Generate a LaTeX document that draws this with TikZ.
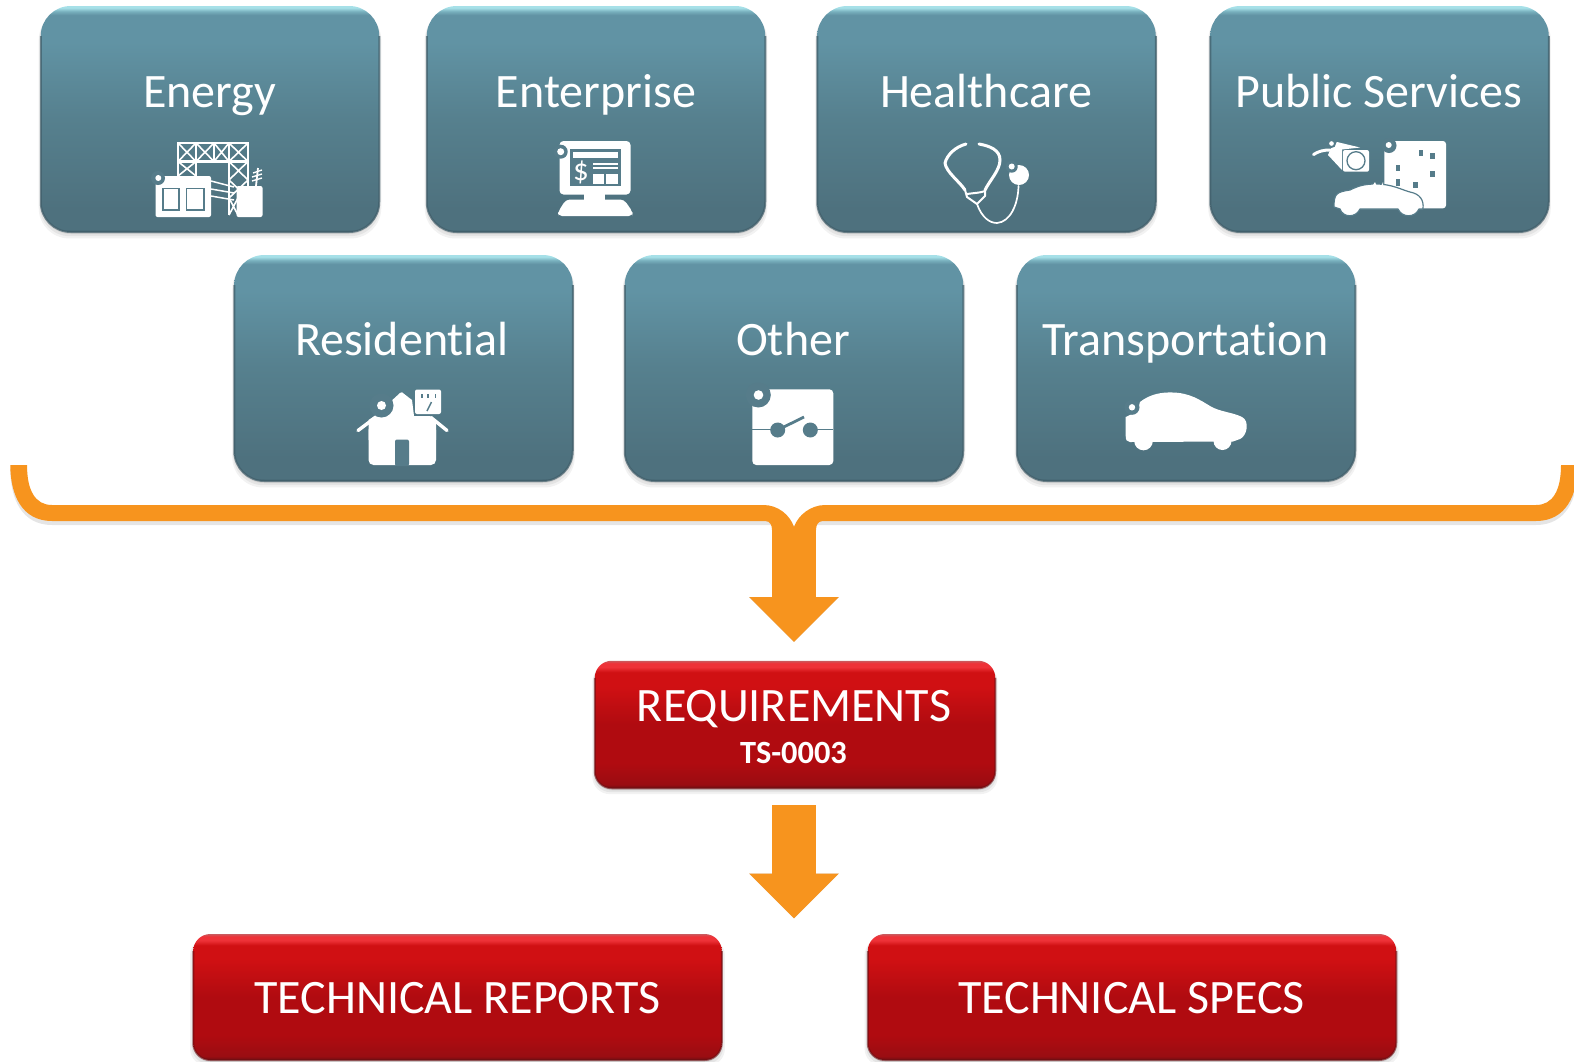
\documentclass[tikz,border=0pt]{standalone}
\usepackage{fontspec}
\setmainfont[Ligatures=NoCommon]{Carlito}
\usetikzlibrary{shadows,arrows.meta}
\definecolor{tealicon}{HTML}{567C8A}
\definecolor{orangeb}{HTML}{F7941E}
\definecolor{t0}{HTML}{405D69}\definecolor{t1}{HTML}{4E717E}\definecolor{t2}{HTML}{56808E}
\definecolor{t3}{HTML}{6193A4}\definecolor{t4}{HTML}{78B0BD}\definecolor{t5}{HTML}{A6E0E8}
\definecolor{r0}{HTML}{6E0E12}\definecolor{r1}{HTML}{9A0D12}\definecolor{r2}{HTML}{B00B10}
\definecolor{r3}{HTML}{D01013}\definecolor{r4}{HTML}{EE3238}\definecolor{r5}{HTML}{C95A5E}
\pgfdeclareverticalshading{tealgrad}{100bp}{color(0bp)=(t0); color(25bp)=(t0); color(25.6bp)=(t1); color(30bp)=(t1); color(50bp)=(t2);
 color(67bp)=(t3); color(73bp)=(t3); color(73.8bp)=(t4); color(74.6bp)=(t5); color(100bp)=(t5)}
\pgfdeclareverticalshading{redgrad}{100bp}{color(0bp)=(r0); color(25bp)=(r0); color(26.5bp)=(r1); color(35bp)=(r2); color(50bp)=(r2);
 color(65bp)=(r3); color(70.5bp)=(r3); color(72.5bp)=(r4); color(74bp)=(r4); color(75bp)=(r5); color(100bp)=(r5)}
\tikzset{
 softshadow/.style={
  general shadow={fill=black,opacity=.05,shadow xshift=0pt,shadow yshift=-5pt,shadow scale=1.012},
  general shadow={fill=black,opacity=.06,shadow xshift=0pt,shadow yshift=-3.5pt,shadow scale=1.006},
  general shadow={fill=black,opacity=.08,shadow xshift=0pt,shadow yshift=-2pt}},
 tealbox/.style={softshadow,shading=tealgrad,rounded corners=30pt,minimum width=338.5pt,minimum height=226pt,inner sep=0pt,outer sep=0pt},
 redbox/.style={softshadow,shading=redgrad,rounded corners=17pt,inner sep=0pt,outer sep=0pt},
 lab/.style={text=white,anchor=base,inner sep=0pt,font=\fontsize{48}{54}\selectfont},
 rim/.style={draw=t0,line width=2pt,opacity=.7,rounded corners=30pt},
 redrim/.style={draw=r0,line width=2pt,opacity=.6,rounded corners=17pt},
 orangefill/.style={fill=orangeb},
 barrow/.style={line width=44pt,draw=orangeb,-{Triangle[width=87pt,length=45pt,fill=orangeb]}},
 barrowsh/.style={line width=44pt,draw=#1,-{Triangle[width=87pt,length=45pt,fill=#1]}},
 ic/.style={fill=white},
 cut/.style={fill=tealicon},
 icl/.style={draw=white,line width=2pt,line cap=round,line join=round},
 ict/.style={draw=tealicon,line width=1.3pt}
}
\begin{document}
\begin{tikzpicture}[x=1pt,y=-1pt]
\useasboundingbox (0,0) rectangle (1574,1061);
\clip (0,0) rectangle (1574,1061);
% teal boxes
\node[tealbox] (energy) at (210,119) {};
\node[tealbox] (enterprise) at (596,119) {};
\node[tealbox] (healthcare) at (986.5,119) {};
\node[tealbox] (public) at (1379.5,119) {};
\node[tealbox] (residential) at (403.5,368) {};
\node[tealbox] (other) at (794,368) {};
\node[tealbox] (transport) at (1186,368) {};
\foreach \n in {energy,enterprise,healthcare,public,residential,other,transport}{
 \draw[rim] ([yshift=-30pt]\n.north west) -- (\n.south west) -- (\n.south east) -- ([yshift=-30pt]\n.north east);
}
% labels
\node[lab] (lenergy) at (209.5,107) {Energy};
\node[lab] (lenterprise) at (596,107) {Enterprise};
\node[lab] (lhealth) at (986,107) {Healthcare};
\node[lab] (lpublic) at (1379,107) {Public Services};
\node[lab] (lres) at (402,355) {Residential};
\node[lab] (lother) at (793,355) {Other};
\node[lab] (ltrans) at (1185.5,355) {Transportation};

% --- Energy icon
\draw[white,line width=2pt] (178,142) -- (178,176) (196,142) -- (196,176) (214,142) -- (214,162) (229,142) -- (229,215) (248,142) -- (248,215);
\draw[white,line width=2.4pt] (178,143) -- (248,143) (178,161.5) -- (248,161.5);
\draw[white,line width=1.6pt]
 (178,143) -- (196,161.5) (196,143) -- (178,161.5)
 (196,143) -- (214,161.5) (214,143) -- (196,161.5)
 (214,143) -- (229,161.5) (229,143) -- (214,161.5)
 (229,143) -- (248,161.5) (248,143) -- (229,161.5)
 (178,161.5) -- (196,176) (196,161.5) -- (178,176)
 (229,161.5) -- (248,180) (248,161.5) -- (229,180)
 (229,180) -- (248,198) (248,180) -- (229,198)
 (229,198) -- (238,215) (238,198) -- (229,215);
\draw[white,line width=1.5pt] (211,181) -- (234,187) (211,189) -- (234,193) (211,196) -- (234,200);
\fill[ic,rounded corners=2pt] (155.5,176) rectangle (211,217);
\fill[ic,rounded corners=2pt] (236.5,186) rectangle (262.5,217);
\draw[white,line width=1.8pt] (256,186) -- (258,168);
\draw[white,line width=1.4pt] (252,181) -- (262,178) (252,177) -- (262,174) (253,173) -- (262,170);
\fill[cut] (158,178) circle (7);
\fill[ic] (158.3,178) circle (3);
\draw[ict,line width=1.4pt] (163,188.5) rectangle (179,210);
\draw[ict,line width=1.4pt] (186.5,188.5) rectangle (204,210);

% --- Enterprise icon
\fill[ic,rounded corners=4pt] (559.5,141) rectangle (630.5,194.5);
\fill[ic] (584,193) rectangle (605,201);
\fill[ic,rounded corners=4pt] (566,199.5) -- (624,199.5) -- (632.7,212) -- (632.7,216) -- (558,216) -- (558,212) -- cycle;
\fill[cut] (570,149) rectangle (620.7,186);
\fill[ic] (573,151.7) rectangle (617.7,158);
\fill[ic] (592.7,162.7) rectangle (617.7,164.7);
\fill[ic] (592.7,167.3) rectangle (617.7,169.3);
\fill[ic] (592.7,174) rectangle (604,184);
\fill[ic] (606,174) rectangle (617.7,184);
\node[text=white,inner sep=0pt,font=\fontsize{31}{31}\selectfont] (dollar) at (581,172.5) {\$};
\fill[cut] (560.7,151.7) circle (7);
\fill[ic] (560.7,151.7) circle (3.5);

% --- Healthcare icon
\draw[icl,line width=3pt] (966,144) .. controls (955,147) and (947,155) .. (945,163) .. controls (946,172) and (960,182) .. (965,190);
\draw[icl,line width=3pt] (979,144) .. controls (990,146) and (1000,150) .. (1000,160) .. controls (1000,170) and (990,180) .. (985,190);
\draw[icl,line width=2pt] (965,190) -- (967,197) -- (977,204) -- (985,196) -- (985,190) (967,194) .. controls (973,193) and (980,193) .. (985,191);
\draw[icl,line width=1.7pt] (977,204) .. controls (982,218) and (990,223) .. (997,223) .. controls (1010,222) and (1018,205) .. (1018.5,186);
\fill[ic] (1019,175) circle (10);
\fill[cut] (1011.7,166.7) circle (6);
\fill[ic] (1011.7,166.5) circle (3);

% --- Public services icon
\draw[white,line width=3pt,line cap=round] (1313.5,154.5) .. controls (1319,151) and (1324,150) .. (1330,150);
\fill[ic] (1331,148) -- (1337,142) -- (1360,147.5) -- (1342,149.5) -- (1342,170) -- (1328,155) -- cycle;
\fill[cut] (1331.5,143.5) circle (4.5);
\fill[ic] (1331.5,143.5) circle (2.3);
\fill[ic,rounded corners=2pt] (1343,150) rectangle (1369,171.7);
\draw[ict,line width=1.3pt] (1356,160.7) circle (9);
\fill[ic,rounded corners=3pt] (1384.3,141) rectangle (1446,208.3);
\fill[cut] (1389,145.5) circle (7.5);
\fill[ic] (1388.7,145) circle (3);
\foreach \wx/\wy in {1421/153,1432.5/156,1398/168,1432.5/174,1398/182.5,1415.5/185}{
 \fill[cut] (\wx-2.4,\wy-3.2) rectangle (\wx+2.4,\wy+3.2);}
\path[fill=white,draw=tealicon,line width=1.2pt,line join=round] (1334,207) .. controls (1334,194) and (1336,192) .. (1350,190) .. controls (1358,186) and (1364,184) .. (1376,184) .. controls (1392,184) and (1402,190) .. (1410,192) .. controls (1420,194) and (1424,200) .. (1423,209) -- (1419,209) .. controls (1415,218) and (1402,218) .. (1398,209) -- (1360,209) .. controls (1356,218) and (1343,218) .. (1340,209) -- cycle;
\fill[ic] (1373,185) -- (1375,182) arc (180:0:4) -- (1383,185) -- cycle;

% --- Residential icon
\fill[ic,rounded corners=5pt] (368.5,425) rectangle (436,465);
\fill[ic] (368.5,420) -- (376,415) -- (400,393) -- (402,392.3) -- (412,400) -- (414,416) -- (430,416) -- (436,422) -- (436,440) -- (368.5,440) -- cycle;
\draw[white,line width=3.4pt,line cap=round] (358,430.5) -- (376,417) (447,430.5) -- (431,417.5);
\fill[cut] (381.5,405.5) circle (12);
\fill[ic] (381.5,405.5) circle (4.5);
\fill[cut,rounded corners=2pt] (395,439.5) rectangle (409,466);
\fill[ic,rounded corners=2pt] (415,389.5) rectangle (441,414);
\draw[tealicon,line width=1.4pt] (422,394) -- (422,398) (428,394) -- (428,398) (435.5,394) -- (435.5,398);
\draw[tealicon,line width=1.4pt] (431.5,402) -- (427,411);

% --- Other icon
\fill[ic,rounded corners=4pt] (752.3,389.3) rectangle (833.3,465);
\fill[cut] (758.3,395) circle (12.5);
\fill[ic] (758.5,395) circle (4.8);
\draw[tealicon,line width=1.8pt] (752.3,429.5) -- (780,429.5) (810,429.5) -- (833.3,429.5);
\fill[cut] (777.7,430) circle (7.5);
\fill[cut] (810.3,430) circle (7.5);
\draw[tealicon,line width=2.8pt] (777.7,430) -- (804,417);

% --- Transportation icon
\fill[ic] (1130,442) .. controls (1127,442) and (1125.7,440) .. (1125.7,436) -- (1125.7,417) .. controls (1132,414) and (1138,412) .. (1140,402) .. controls (1150,394) and (1162,392) .. (1173,392.5) .. controls (1190,393) and (1200,400) .. (1210,406) .. controls (1220,412) and (1232,412) .. (1242,417) .. controls (1250,421) and (1247,436) .. (1240,439) -- (1233,441.5) -- cycle;
\fill[ic] (1143.5,441) circle (9.3);
\fill[ic] (1222.5,441) circle (9);
\fill[cut] (1132,407.3) circle (7.5);
\fill[ic] (1132,407.3) circle (3.2);

% brace
\coordinate (bracetip) at (794,527);
\coordinate (reqtip) at (794,642);
\coordinate (splittip) at (794,918.5);
\fill[black,opacity=.10,yshift=-4pt] (10.3,465) .. controls (10.3,495) and (22,521) .. (52,521) -- (1536,521) .. controls (1566,521) and (1577.7,495) .. (1577.7,465) -- (1561,465) .. controls (1561,490) and (1553,505) .. (1536,505) -- (825,505) .. controls (811,505) and (798,515) .. (794,527) .. controls (790,515) and (778,505) .. (763.5,505) -- (52,505) .. controls (35,505) and (27,490) .. (27,465) -- cycle;
\draw[barrowsh=black!18,yshift=-3pt,xshift=1pt] (bracetip) -- (reqtip);
\draw[barrow] (bracetip) -- (reqtip);
\fill[orangefill] (10.3,465) .. controls (10.3,495) and (22,521) .. (52,521) -- (765,521) .. controls (770,521) and (772,525) .. (772,530) -- (816,530) .. controls (816,525) and (818,521) .. (823,521) -- (1536,521) .. controls (1566,521) and (1577.7,495) .. (1577.7,465) -- (1561,465) .. controls (1561,490) and (1553,505) .. (1536,505) -- (825,505) .. controls (811,505) and (798,515) .. (794,527) .. controls (790,515) and (778,505) .. (763.5,505) -- (52,505) .. controls (35,505) and (27,490) .. (27,465) -- cycle;

% red boxes
\node[redbox,minimum width=400.5pt,minimum height=127.5pt] (req) at (795,724.5) {};
\node[redbox,minimum width=528.5pt,minimum height=126pt] (reports) at (457.5,997) {};
\node[redbox,minimum width=528.5pt,minimum height=126pt] (specs) at (1132,997) {};
\foreach \n in {req,reports,specs}{
 \draw[redrim] ([yshift=-17pt]\n.north west) -- (\n.south west) -- (\n.south east) -- ([yshift=-17pt]\n.north east);
}
\node[lab] (lreq) at (794,721.7) {REQUIREMENTS};
\node[text=white,anchor=base,inner sep=0pt,font=\fontsize{32.4}{36}\bfseries\selectfont] (lts) at (793.5,763.7) {TS-0003};
\node[lab] (lrep) at (457.5,1013.7) {TECHNICAL REPORTS};
\node[lab] (lspec) at (1131.5,1013.7) {TECHNICAL SPECS};

% lower arrow
\draw[barrowsh=black!18,yshift=-3pt,xshift=1pt,shorten <=17pt] ([xshift=-1pt]req.south) -- (splittip);
\draw[barrow,shorten <=17pt] ([xshift=-1pt]req.south) -- (splittip);
\end{tikzpicture}
\end{document}
